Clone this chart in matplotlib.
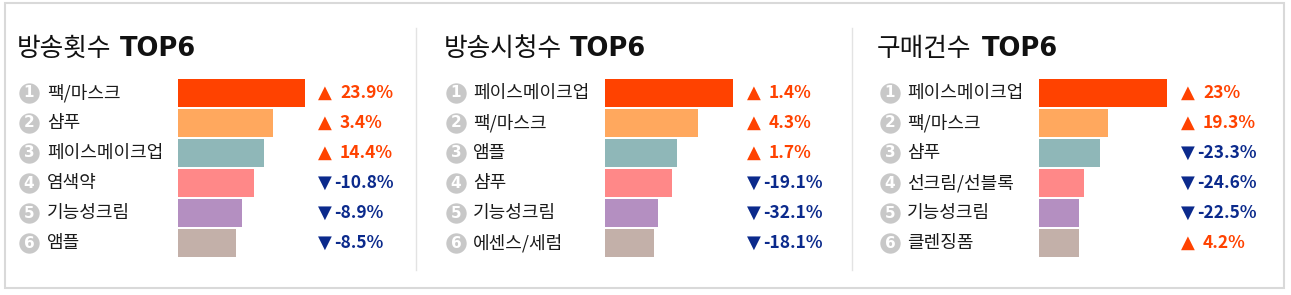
import matplotlib
matplotlib.use('Agg')
import matplotlib.pyplot as plt
import matplotlib.transforms as mtransforms
from matplotlib.patches import Rectangle
from matplotlib.lines import Line2D

plt.rcParams['font.family'] = ['Noto Sans CJK KR', 'DejaVu Sans']

# data
titles = ['방송횟수', '방송시청수', '구매건수']

labels_count = ['팩/마스크', '샴푸', '페이스메이크업', '염색약', '기능성크림', '앰플']
labels_view = ['페이스메이크업', '팩/마스크', '앰플', '샴푸', '기능성크림', '에센스/세럼']
labels_buy = ['페이스메이크업', '팩/마스크', '샴푸', '선크림/선블록', '기능성크림', '클렌징폼']

# bar lengths (relative)
values_count = [127, 95, 86, 76, 64, 58]
values_view = [128, 93, 72, 67, 53, 49]
values_buy = [128, 69, 61, 45, 40, 40]

# change vs previous period, %
change_count = [23.9, 3.4, 14.4, -10.8, -8.9, -8.5]
change_view = [1.4, 4.3, 1.7, -19.1, -32.1, -18.1]
change_buy = [23.0, 19.3, -23.3, -24.6, -22.5, 4.2]

bar_colors = ['#ff4200', '#ffa85e', '#8fb7b8', '#ff8888', '#b48fc1', '#c3b0a9']
up_color = '#ff4200'
down_color = '#0b2a8c'

panels = [
    (labels_count, values_count, change_count),
    (labels_view, values_view, change_view),
    (labels_buy, values_buy, change_buy),
]

W, H = 1291, 295
fig = plt.figure(figsize=(W / 100, H / 100), dpi=100)
fig.patch.set_facecolor('white')

# layout in pixels (x from left, y from top)
title_x = [17, 444, 877]
top6_x = [120, 570, 982]
circle_x = [29, 456, 890]
label_x = [47, 473, 907]
bar_x = [178, 605, 1039]
tri_x = [318, 747, 1181]
rows_top, row_h = 78, 30


def fx(px):
    return px / W


def fy(py):
    return 1 - py / H


# outer frame and separators
fig.add_artist(Rectangle((fx(5), fy(288)), fx(1284) - fx(5), fy(3) - fy(288),
                         transform=fig.transFigure, fill=False,
                         edgecolor='#d9d9d9', linewidth=1.5))
for sx in [415.5, 851.5]:
    fig.add_artist(Line2D([fx(sx), fx(sx)], [fy(28), fy(270)],
                          transform=fig.transFigure, color='#e3e3e3', linewidth=1))

for p, (labels, values, changes) in enumerate(panels):
    vmax = max(values)
    ax = fig.add_axes([fx(bar_x[p]), fy(rows_top + 6 * row_h), fx(vmax),
                       6 * row_h / H])
    ypos = list(range(len(labels)))
    ax.barh(ypos, values, height=28 / 30, color=bar_colors, edgecolor='none')
    ax.set_xlim(0, vmax)
    ax.set_ylim(5.5, -0.5)
    ax.axis('off')

    tr = mtransforms.blended_transform_factory(fig.transFigure, ax.transData)

    # title
    fig.text(fx(title_x[p]), fy(56), titles[p], fontsize=18.5, color='#111111',
             va='baseline', ha='left')
    fig.text(fx(top6_x[p]), fy(56), 'TOP6', fontsize=18.5, fontweight='bold',
             family='DejaVu Sans', color='#111111', va='baseline', ha='left')

    ax.scatter([fx(circle_x[p])] * 6, ypos, s=215, color='#c8c8c8',
               transform=tr, clip_on=False, zorder=3, linewidths=0)
    for i, (lab, ch) in enumerate(zip(labels, changes)):
        ax.text(fx(circle_x[p]), i, str(i + 1), transform=tr, color='white',
                fontsize=11, fontweight='bold', ha='center', va='center',
                family='DejaVu Sans', zorder=4, clip_on=False)
        ax.text(fx(label_x[p]), i, lab, transform=tr, color='#1a1a1a',
                fontsize=13, ha='left', va='center', clip_on=False)
        if ch >= 0:
            col, tri, off = up_color, '\u25b2', 22
        else:
            col, tri, off = down_color, '\u25bc', 16
        ax.text(fx(tri_x[p]), i, tri, transform=tr, color=col, fontsize=13,
                family='DejaVu Sans', ha='left', va='center', clip_on=False)
        ax.text(fx(tri_x[p] + off), i, f'{ch:g}%', transform=tr, color=col,
                fontsize=12.5, fontweight='bold', ha='left', va='center',
                clip_on=False)

fig.savefig('out.png', dpi=100, facecolor='white')
